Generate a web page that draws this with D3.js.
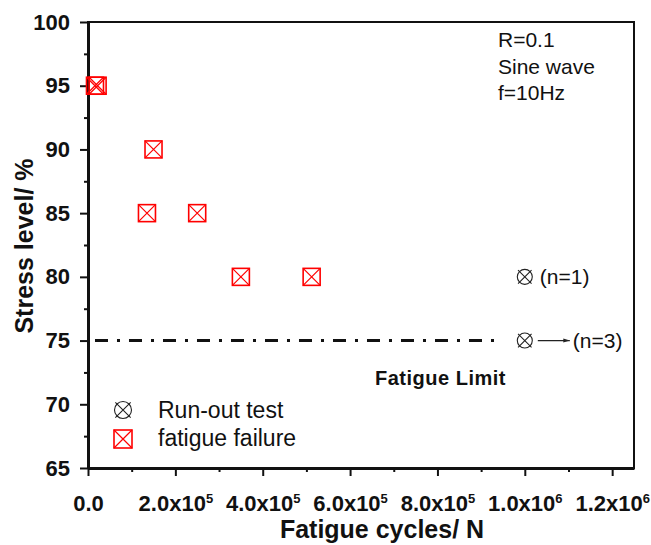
<!DOCTYPE html>
<html>
<head>
<meta charset="utf-8">
<script src="https://cdn.jsdelivr.net/npm/d3@7/dist/d3.min.js"></script>
<style>
  body { margin: 0; background: #fff; }
  svg text { font-family: "Liberation Sans", Arial, sans-serif; fill: #111; }
</style>
</head>
<body>
<div id="chart"></div>
<script>
  // fatigue failure points (cycles, stress %)
  var failureCycles = [16000, 22000, 150000, 135000, 250000, 350000, 512000];
  var failureStress = [95, 95, 90, 85, 85, 80, 80];

  // run-out tests
  var runoutCycles = [1000000, 1000000];
  var runoutStress = [80, 75];
  var runoutLabels = ["(n=1)", "(n=3)"];

  // fatigue limit line
  var limitStress = 75;
  var limitCycles = [16000, 950000];

  var xTicks = [0, 200000, 400000, 600000, 800000, 1000000, 1200000];
  var xMinor = [100000, 300000, 500000, 700000, 900000, 1100000];
  var yTicks = [65, 70, 75, 80, 85, 90, 95, 100];
  var yMinor = [67.5, 72.5, 77.5, 82.5, 87.5, 92.5, 97.5];

  var noteLines = ["R=0.1", "Sine wave", "f=10Hz"];
  var legendLabels = ["Run-out test", "fatigue failure"];

  var width = 651, height = 545;
  var margin = { left: 88, right: 634, top: 22, bottom: 468 };

  var x = d3.scaleLinear().domain([0, 1250000]).range([margin.left, margin.right]);
  var y = d3.scaleLinear().domain([65, 100]).range([margin.bottom, margin.top]);

  var svg = d3.select("#chart").append("svg")
    .attr("width", width)
    .attr("height", height);

  // frame (top / right)
  svg.append("rect")
    .attr("x", margin.left).attr("y", margin.top)
    .attr("width", margin.right - margin.left).attr("height", margin.bottom - margin.top)
    .attr("fill", "none").attr("stroke", "#111").attr("stroke-width", 2);

  // minor ticks
  svg.append("g")
    .attr("transform", "translate(0," + margin.bottom + ")")
    .call(d3.axisBottom(x).tickValues(xMinor).tickSize(4).tickSizeOuter(0).tickFormat(""))
    .call(g => g.select(".domain").remove());

  svg.append("g")
    .attr("transform", "translate(" + margin.left + ",0)")
    .call(d3.axisLeft(y).tickValues(yMinor).tickSize(4).tickSizeOuter(0).tickFormat(""))
    .call(g => g.select(".domain").remove());

  // major x axis
  var xAxis = svg.append("g")
    .attr("transform", "translate(0," + margin.bottom + ")")
    .call(d3.axisBottom(x).tickValues(xTicks).tickSize(8).tickSizeOuter(0).tickPadding(15));

  xAxis.selectAll(".tick text").each(function (d) {
    var t = d3.select(this).text("");
    if (d === 0) { t.text("0.0"); return; }
    var exp = Math.floor(Math.log10(d));
    var man = d / Math.pow(10, exp);
    t.append("tspan").text(man.toFixed(1) + "x10");
    t.append("tspan").attr("dy", "-8").attr("font-size", "13px").text(exp);
  });
  xAxis.selectAll(".tick text").attr("dy", "0.9em");

  // major y axis
  var yAxis = svg.append("g")
    .attr("transform", "translate(" + margin.left + ",0)")
    .call(d3.axisLeft(y).tickValues(yTicks).tickSize(8).tickSizeOuter(0).tickPadding(10));

  svg.selectAll("g").attr("font-family", null);
  svg.selectAll(".tick text").attr("font-size", "22px").attr("font-weight", "bold");
  svg.selectAll(".domain").attr("stroke", "#111").attr("stroke-width", 3);
  svg.selectAll(".tick line").attr("stroke", "#111").attr("stroke-width", 2);

  // axis titles
  svg.append("text")
    .attr("x", 382).attr("y", 538)
    .attr("text-anchor", "middle")
    .attr("font-weight", "bold").attr("font-size", "25px")
    .text("Fatigue cycles/ N");

  svg.append("text")
    .attr("transform", "translate(33,246) rotate(-90)")
    .attr("text-anchor", "middle")
    .attr("font-weight", "bold").attr("font-size", "25px")
    .text("Stress level/ %");

  // fatigue limit line
  svg.append("line")
    .attr("x1", x(limitCycles[0])).attr("x2", x(limitCycles[1]))
    .attr("y1", y(limitStress)).attr("y2", y(limitStress))
    .attr("stroke", "#111").attr("stroke-width", 3)
    .attr("stroke-dasharray", "13,9,3,9");

  svg.append("text")
    .attr("x", 375).attr("y", 385)
    .attr("font-weight", "bold").attr("font-size", "20px")
    .attr("letter-spacing", "0.5px")
    .text("Fatigue Limit");

  // marker helpers
  function squareX(g, s) {
    g.append("rect").attr("x", -s / 2).attr("y", -s / 2).attr("width", s).attr("height", s)
      .attr("fill", "none").attr("stroke", "#f00").attr("stroke-width", 1.6);
    g.append("path").attr("d", "M" + (-s / 2) + "," + (-s / 2) + "L" + (s / 2) + "," + (s / 2) +
      "M" + (s / 2) + "," + (-s / 2) + "L" + (-s / 2) + "," + (s / 2))
      .attr("stroke", "#f00").attr("stroke-width", 1.2);
  }
  function circleX(g, r) {
    var c = r * 0.9;
    g.append("circle").attr("r", r).attr("fill", "none").attr("stroke", "#222").attr("stroke-width", 1.1);
    g.append("path").attr("d", "M" + (-c) + "," + (-c) + "L" + c + "," + c + "M" + c + "," + (-c) + "L" + (-c) + "," + c)
      .attr("stroke", "#222").attr("stroke-width", 1.1);
  }

  // failure points
  failureCycles.forEach(function (c, i) {
    var g = svg.append("g").attr("transform", "translate(" + x(c) + "," + y(failureStress[i]) + ")");
    squareX(g, 17);
  });

  // run-out points
  runoutCycles.forEach(function (c, i) {
    var g = svg.append("g").attr("transform", "translate(" + x(c) + "," + y(runoutStress[i]) + ")");
    circleX(g, 7.5);
  });

  svg.append("defs").append("marker")
    .attr("id", "arrow").attr("viewBox", "0 0 10 10")
    .attr("refX", 10).attr("refY", 5)
    .attr("markerWidth", 6).attr("markerHeight", 5)
    .attr("orient", "auto")
    .append("path").attr("d", "M0,2L10,5L0,8Z").attr("fill", "#222");

  // n=1 label next to marker
  svg.append("text")
    .attr("x", x(runoutCycles[0]) + 15).attr("y", y(runoutStress[0]) + 7)
    .attr("font-size", "21px")
    .text(runoutLabels[0]);

  // n=3 arrow and label
  svg.append("line")
    .attr("x1", x(runoutCycles[1]) + 13).attr("x2", x(runoutCycles[1]) + 45)
    .attr("y1", y(runoutStress[1])).attr("y2", y(runoutStress[1]))
    .attr("stroke", "#222").attr("stroke-width", 1.3)
    .attr("marker-end", "url(#arrow)");
  svg.append("text")
    .attr("x", x(runoutCycles[1]) + 48).attr("y", y(runoutStress[1]) + 7)
    .attr("font-size", "21px")
    .text(runoutLabels[1]);

  // test conditions note
  svg.selectAll(".note").data(noteLines).enter().append("text")
    .attr("class", "note")
    .attr("x", 498).attr("y", function (d, i) { return 47 + i * 26.5; })
    .attr("font-size", "21px")
    .text(function (d) { return d; });

  // legend
  var lg1 = svg.append("g").attr("transform", "translate(123,410)");
  circleX(lg1, 8.5);
  var lg2 = svg.append("g").attr("transform", "translate(123,439)");
  squareX(lg2, 18);

  svg.selectAll(".legtext").data(legendLabels).enter().append("text")
    .attr("class", "legtext")
    .attr("x", 158).attr("y", function (d, i) { return 418 + i * 28; })
    .attr("font-size", "23px")
    .text(function (d) { return d; });
</script>
</body>
</html>
